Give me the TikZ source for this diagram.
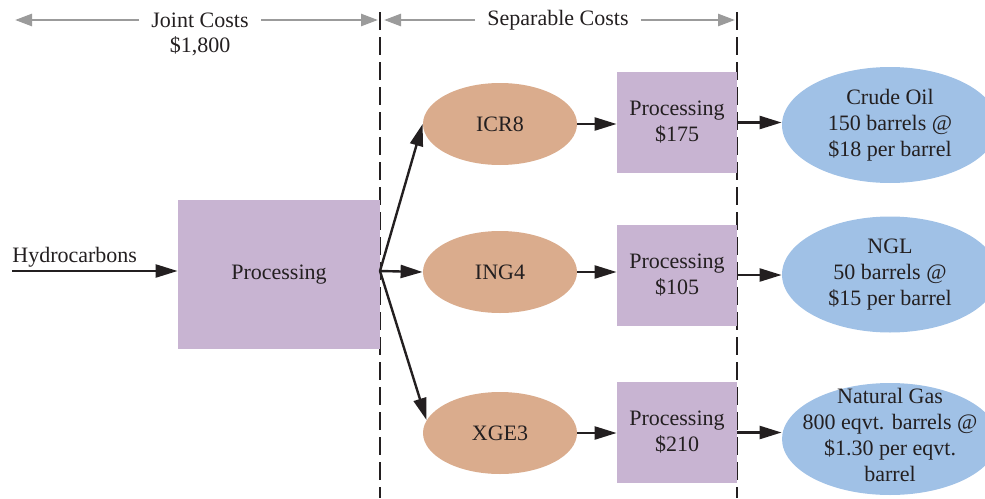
\documentclass[tikz,border=0pt]{standalone}
\usepackage{fontspec}
\setmainfont{Liberation Serif}
\usepackage{tikz}
\usetikzlibrary{arrows.meta,shapes.geometric}
\definecolor{ProcPurple}{RGB}{200,180,210}
\definecolor{SplitOrange}{RGB}{218,172,141}
\definecolor{ProdBlue}{RGB}{160,193,230}
\definecolor{InkBlack}{RGB}{35,31,32}
\definecolor{HeadGray}{RGB}{155,155,155}

\begin{document}
\begin{tikzpicture}[x=0.5pt,y=-0.5pt,font=\fontsize{11}{13}\selectfont,text=InkBlack,
  procbox/.style={fill=ProcPurple,inner sep=0,align=center},
  splitnode/.style={ellipse,fill=SplitOrange,minimum width=77pt,minimum height=41pt,inner sep=0},
  prodnode/.style={ellipse,fill=ProdBlue,minimum width=108pt,minimum height=58pt,inner sep=0},
  prodtext/.style={align=center,inner sep=0},
  hdrlabel/.style={inner xsep=6pt,inner ysep=0},
  flow/.style={draw=InkBlack,line width=1.2pt,-{Triangle[length=11pt,width=6.5pt]}},
  hdr/.style={draw=HeadGray,line width=1.3pt,-{Triangle[length=8.5pt,width=6pt]}},
  divider/.style={draw=InkBlack,line width=1.1pt,dash pattern=on 9pt off 3.5pt}]
\useasboundingbox (0,0) rectangle (985,498);
\clip (0,0) rectangle (985,498);
% dividers
\draw[divider] (380,12) -- (380,498);
\draw[divider] (737,12) -- (737,498);
% headings
\node[hdrlabel] (jointhd) at (200,20) {Joint Costs};
\node[hdrlabel] (jointamt) at (200,46) {\$1,800};
\node[hdrlabel] (sephd) at (558,20) {Separable Costs};
\coordinate (jointL) at (15,20);
\coordinate (jointR) at (378,20);
\coordinate (sepL) at (384,20);
\coordinate (sepR) at (735,20);
\draw[hdr] (jointhd) -- (jointL);
\draw[hdr] (jointhd) -- (jointR);
\draw[hdr] (sephd) -- (sepL);
\draw[hdr] (sephd) -- (sepR);
% joint process
\node[procbox,minimum width=101pt,minimum height=74.5pt] (jointproc) at (279,274.5) {Processing};
\coordinate (feed) at (12,271);
\node[anchor=base west,inner sep=0] (feedlbl) at (12,262) {Hydrocarbons};
\draw[flow] (feed) -- (feed -| jointproc.west);
\coordinate (split) at (380,271);
% splitoff products
\node[splitnode] (icr) at (500,124) {ICR8};
\node[splitnode] (ing) at (500,272) {ING4};
\node[splitnode] (xge) at (500,433) {XGE3};
\draw[flow] (split) -- (icr.west);
\draw[flow] (split) -- (ing.west);
\draw[flow] (split) -- (xge.170);
% separable processing
\node[procbox,minimum width=60pt,minimum height=50.5pt] (sep1) at (677,122.5) {Processing\\\$175};
\node[procbox,minimum width=60pt,minimum height=50.5pt] (sep2) at (677,275) {Processing\\\$105};
\node[procbox,minimum width=60pt,minimum height=50.5pt] (sep3) at (677,432.5) {Processing\\\$210};
\draw[flow] (icr.east) -- (icr.east -| sep1.west);
\draw[flow] (ing.east) -- (ing.east -| sep2.west);
\draw[flow] (xge.east) -- (xge.east -| sep3.west);
% final products
\node[prodnode] (crude) at (890,125) {};
\node[prodtext] (crudetxt) at (crude) {Crude Oil\\150 barrels @\\\$18 per barrel};
\node[prodnode] (ngl) at (890,274.5) {};
\node[prodtext] (ngltxt) at (ngl) {NGL\\50 barrels @\\\$15 per barrel};
\node[prodnode,minimum height=56pt] (gas) at (890,439) {};
\node[prodtext] (gastxt) at (890,435) {Natural Gas\\800 eqvt. barrels @\\\$1.30 per eqvt.\\barrel};
\draw[flow] (sep1.east) -- (sep1.east -| crude.west);
\draw[flow] (sep2.east) -- (sep2.east -| ngl.west);
\draw[flow] (sep3.east) -- (sep3.east -| gas.west);
\end{tikzpicture}
\end{document}
